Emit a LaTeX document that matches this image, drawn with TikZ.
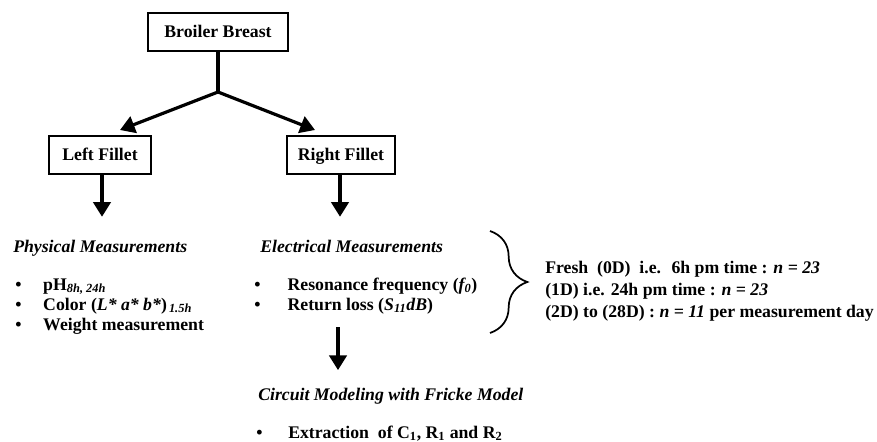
\documentclass[tikz,border=0pt]{standalone}
\usepackage{fontspec}
\setmainfont{Liberation Serif}
\usepackage{tikz}
\usetikzlibrary{arrows.meta,decorations.pathreplacing}

\begin{document}
\begin{tikzpicture}[x=0.75pt,y=-0.75pt,
  every node/.style={font=\bfseries\fontsize{13.3}{15}\selectfont,inner sep=0pt},
  box/.style={draw,line width=1.6pt,minimum height=29pt,inner sep=3pt,text height=9pt,text depth=1pt},
  arr/.style={line width=2.4pt,-{Triangle[length=11pt,width=13pt]}}]
\useasboundingbox (0,0) rectangle (877,442);
% boxes
\node[box,minimum width=105pt] (broiler) at (218,32) {Broiler Breast};
\node[box,minimum width=76pt] (lfil) at (100,155) {Left Fillet};
\node[box,minimum width=81pt] (rfil) at (341,155) {Right Fillet};
\coordinate (split) at (218,92);
\coordinate (ltip) at (120,130);
\coordinate (rtip) at (315,130);
\draw[line width=2.4pt] (broiler.south) -- (split);
\draw[arr] (split) -- (ltip);
\draw[arr] (split) -- (rtip);
% headings
\node[anchor=base west] (phys) at (13,252) {\itshape Physical Measurements};
\node[anchor=base west] (elec) at (260,252) {\itshape Electrical Measurements};
\node[anchor=base west] (circ) at (258,400) {\itshape Circuit Modeling with Fricke Model};
\draw[arr,shorten >=17pt] (lfil.south -| 102,0) -- (phys.north -| 102,0);
\draw[arr,shorten >=17pt] (rfil.south -| 340,0) -- (elec.north -| 340,0);
% lists
\node[anchor=base west] (p1) at (15,290) {\makebox[21pt][l]{\textbullet}pH\textsubscript{\textit{8h, 24h}}};
\node[anchor=base west] (p2) at (15,310) {\makebox[21pt][l]{\textbullet}Color (\textit{L* a* b*})\textsubscript{\,\textit{1.5h}}};
\node[anchor=base west] (p3) at (15,330) {\makebox[21pt][l]{\textbullet}Weight measurement};
\node[anchor=base west] (e1) at (254,290) {\makebox[25pt][l]{\textbullet}Resonance frequency (\textit{f\textsubscript{0}})};
\node[anchor=base west] (e2) at (254,310) {\makebox[25pt][l]{\textbullet}Return loss (\textit{S\textsubscript{11}dB})};
\node[anchor=base west] (c1) at (256,438) {\makebox[24pt][l]{\textbullet}Extraction \ of C\textsubscript{1}, R\textsubscript{1} and R\textsubscript{2}};
\coordinate (estem) at (338,327);
\draw[arr,shorten >=13pt] (estem) -- (circ.north -| estem);
% brace
\coordinate (btop) at (490,231);
\coordinate (bbot) at (490,333);
\draw[line width=1.3pt,decorate,decoration={brace,amplitude=28pt}] (btop) -- (bbot);
\node[anchor=base west] (d1) at (545,273) {Fresh \ (0D) \ i.e. \ 6h pm time : \textit{n = 23}};
\node[anchor=base west] (d2) at (545,295) {(1D) i.e. 24h pm time : \textit{n = 23}};
\node[anchor=base west] (d3) at (545,317) {(2D) to (28D) : \textit{n = 11} per measurement day};
\end{tikzpicture}
\end{document}
